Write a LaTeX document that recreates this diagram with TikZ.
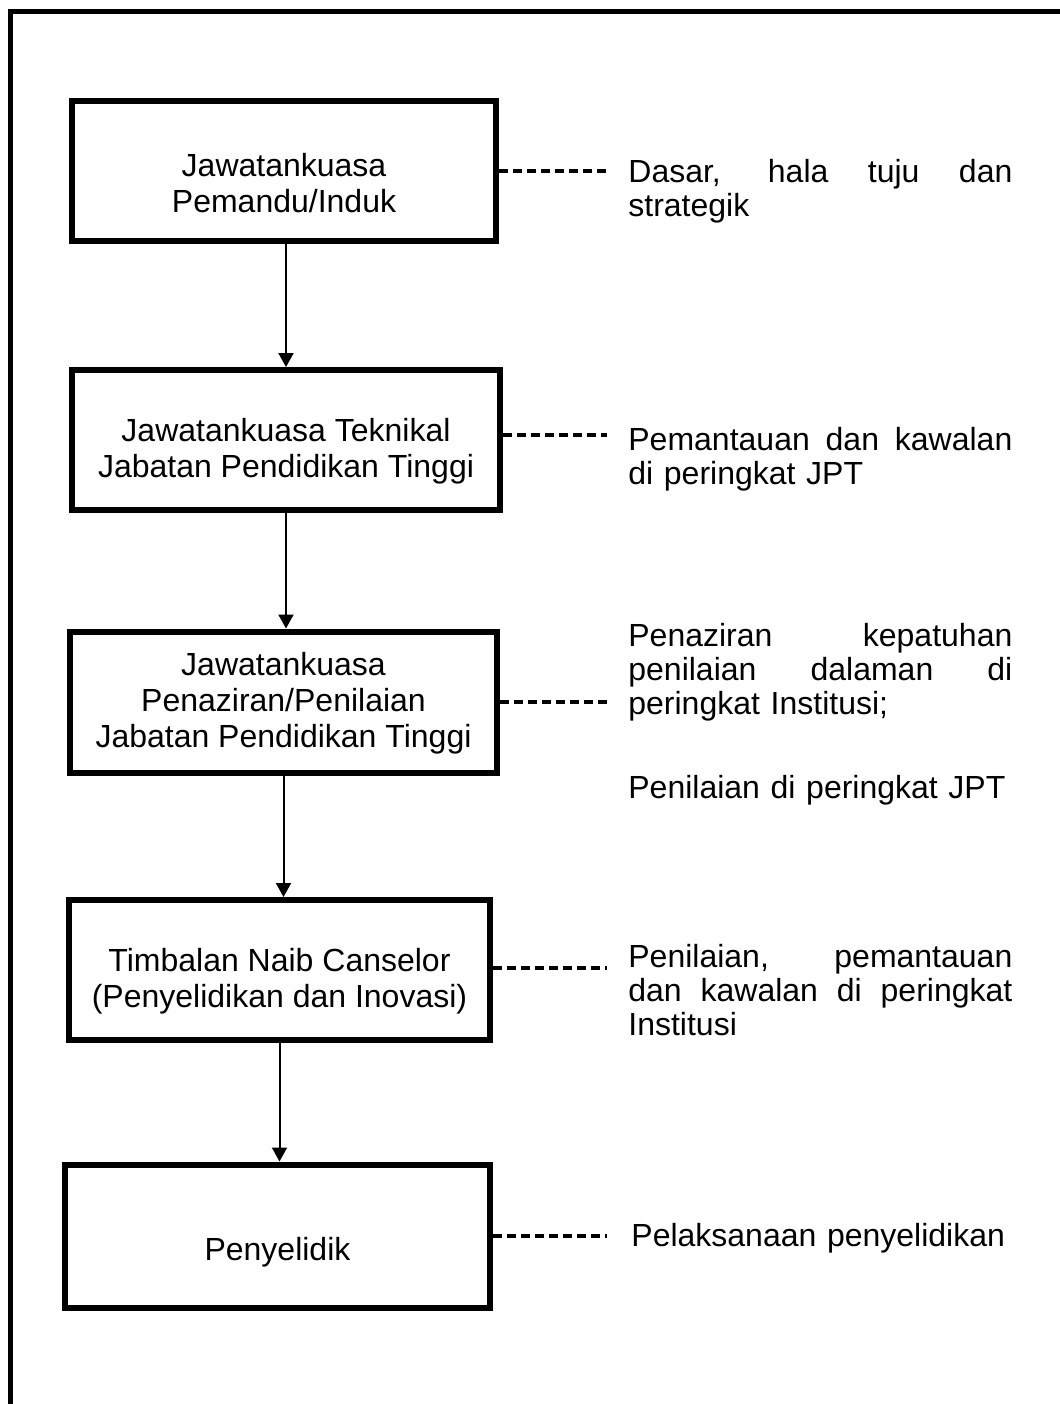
\documentclass[tikz,border=0pt]{standalone}
\usepackage{fontspec}
\setmainfont{Liberation Sans}
\usetikzlibrary{positioning,arrows.meta}
\setlength{\parindent}{0pt}
\newcommand{\spread}[1]{\leavevmode\hbox to 192pt{\spaceskip=\fontdimen2\font plus 1fil\relax #1}}

\begin{document}
\begin{tikzpicture}[x=0.5pt,y=-0.5pt,
  box/.style={draw,line width=3pt,minimum height=70pt,inner sep=0pt},
  boxtext/.style={align=center,inner sep=0pt,font=\fontsize{16}{18}\selectfont},
  note/.style={anchor=north west,text width=200pt,align=left,inner sep=0pt,
    font=\fontsize{16}{17}\selectfont},
  link/.style={-{Triangle[length=7pt,width=7.5pt]},line width=1pt},
  dashline/.style={line width=1.75pt,dash pattern=on 4.5pt off 2.5pt}]
  \useasboundingbox (0,0) rectangle (1060,1404);
  \clip (0,0) rectangle (1060,1404);
  % outer frame, runs off the page on the right and bottom
  \draw[line width=2.5pt] (10,11) rectangle (1120,1460);

  \node[box,minimum width=212pt] (b1) at (284,171) {};
  \node[box,minimum width=214pt] (b2) at (286,440) {};
  \node[box,minimum width=213.5pt,minimum height=70.5pt] (b3) at (283.5,702) {};
  \node[box,minimum width=210.5pt] (b4) at (279.5,970) {};
  \node[box,minimum width=212.5pt,minimum height=71.5pt] (b5) at (277.5,1236) {};

  \node[boxtext] (l1) at ([yshift=-6pt]b1.center) {Jawatankuasa\\Pemandu/Induk};
  \node[boxtext] (l2) at ([yshift=-5.5pt]b2.center) {Jawatankuasa Teknikal\\Jabatan Pendidikan Tinggi};
  \node[boxtext] (l3) at ([yshift=-0.5pt]b3.center) {Jawatankuasa\\Penaziran/Penilaian\\Jabatan Pendidikan Tinggi};
  \node[boxtext] (l4) at ([yshift=-5.5pt]b4.center) {Timbalan Naib Canselor\\(Penyelidikan dan Inovasi)};
  \node[boxtext] (l5) at ([yshift=-8pt]b5.center) {Penyelidik};

  \draw[link] (b2.north |- b1.south) -- (b2.north);
  \draw[link] (b2.south) -- (b2.south |- b3.north);
  \draw[link] (b3.south) -- (b3.south |- b4.north);
  \draw[link] (b4.south) -- (b4.south |- b5.north);

  % dashed leaders to the notes
  \coordinate (d1) at (607,171);
  \coordinate (d2) at (607,435);
  \coordinate (d3) at (607,702);
  \coordinate (d4) at (607,968);
  \coordinate (d5) at (607,1236);
  \draw[dashline] (b1.east |- d1) -- (d1);
  \draw[dashline] (b2.east |- d2) -- (d2);
  \draw[dashline] (b3.east |- d3) -- (d3);
  \draw[dashline] (b4.east |- d4) -- (d4);
  \draw[dashline] (b5.east |- d5) -- (d5);

  \node[note] (n1) at (628,159) {\spread{Dasar, hala tuju dan}\\strategik};
  \node[note] (n2) at (628,427) {\spread{Pemantauan dan kawalan}\\di peringkat JPT};
  \node[note] (n3) at (628,623) {\spread{Penaziran kepatuhan}\\\spread{penilaian dalaman di}\\
    peringkat Institusi;\\[25pt]Penilaian di peringkat JPT};
  \node[note] (n4) at (628,944) {\spread{Penilaian, pemantauan}\\\spread{dan kawalan di peringkat}\\Institusi};
  \node[note] (n5) at (631,1223) {Pelaksanaan penyelidikan};
\end{tikzpicture}
\end{document}
